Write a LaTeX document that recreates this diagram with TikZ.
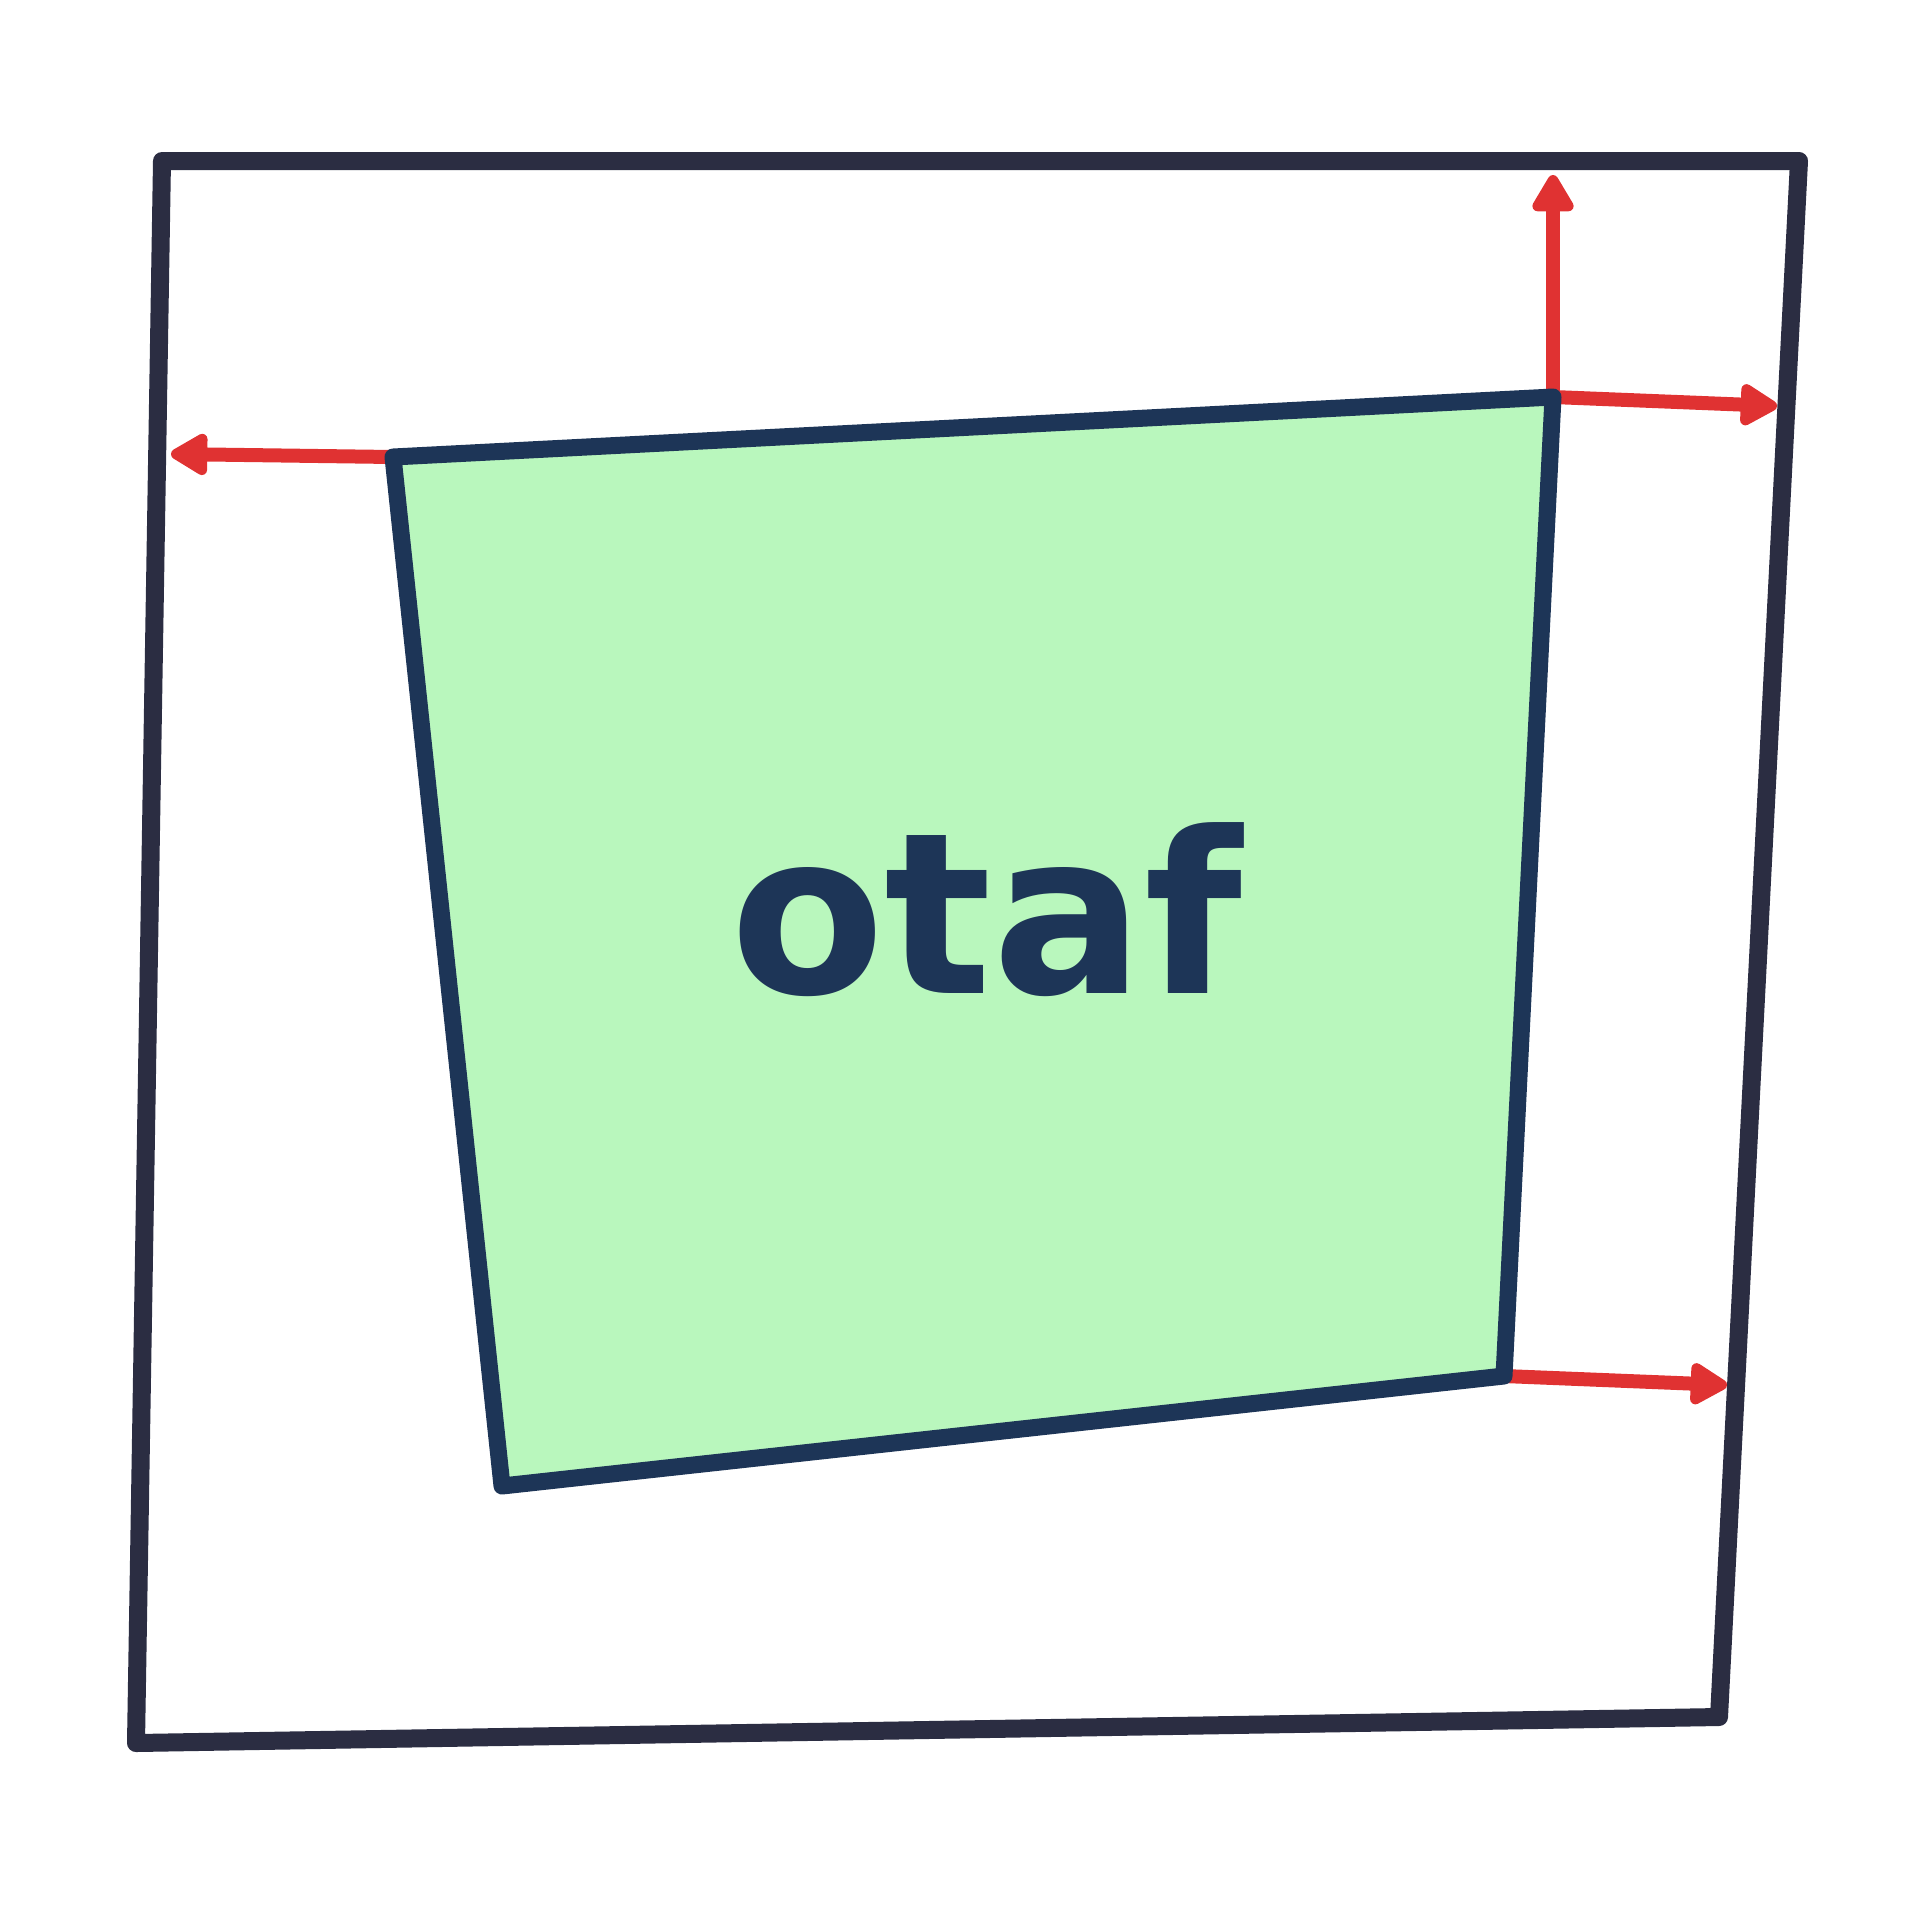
\documentclass[tikz,border=0pt]{standalone}
\usepackage{fontspec}
\setmainfont{DejaVu Sans}
\usetikzlibrary{arrows.meta}
\definecolor{framecol}{HTML}{2B2D42}
\definecolor{quadcol}{HTML}{1D3557}
\definecolor{quadfill}{HTML}{B9F7BD}
\definecolor{arrowcol}{HTML}{E03232}
\tikzset{
  frame/.style={draw=framecol, line width=18pt, line join=round},
  quad/.style={draw=quadcol, fill=quadfill, line width=17pt, line join=round},
  vec/.style={draw=arrowcol, line width=14pt, line join=round,
    -{Triangle[length=42pt, width=46pt, round]}},
  lbl/.style={text=quadcol, inner sep=0pt, anchor=base,
    font=\fontsize{225}{228}\selectfont\bfseries}
}
\begin{document}
\begin{tikzpicture}[x=1pt, y=-1pt]
\useasboundingbox (0,0) rectangle (1908,1907);
% outer frame
\coordinate (o1) at (162,161);
\coordinate (o2) at (1799,161);
\coordinate (o3) at (1719,1717);
\coordinate (o4) at (136,1743);
\draw[frame] (o1) -- (o2) -- (o3) -- (o4) -- cycle;
% inner quad corners
\coordinate (q1) at (393,457);
\coordinate (q2) at (1553,397);
\coordinate (q3) at (1504,1376);
\coordinate (q4) at (502,1486);
% arrow ends
\coordinate (tl) at (171,454);
\coordinate (tu) at (1553,175);
\coordinate (tr) at (1777,406);
\coordinate (tb) at (1727,1385);
\draw[vec] (q1) -- (tl);
\draw[vec] (q2) -- (tu);
\draw[vec] (q2) -- (tr);
\draw[vec] (q3) -- (tb);
\draw[quad] (q1) -- (q2) -- (q3) -- (q4) -- cycle;
\node[lbl] (label) at (986,993) {otaf};
\end{tikzpicture}
\end{document}
